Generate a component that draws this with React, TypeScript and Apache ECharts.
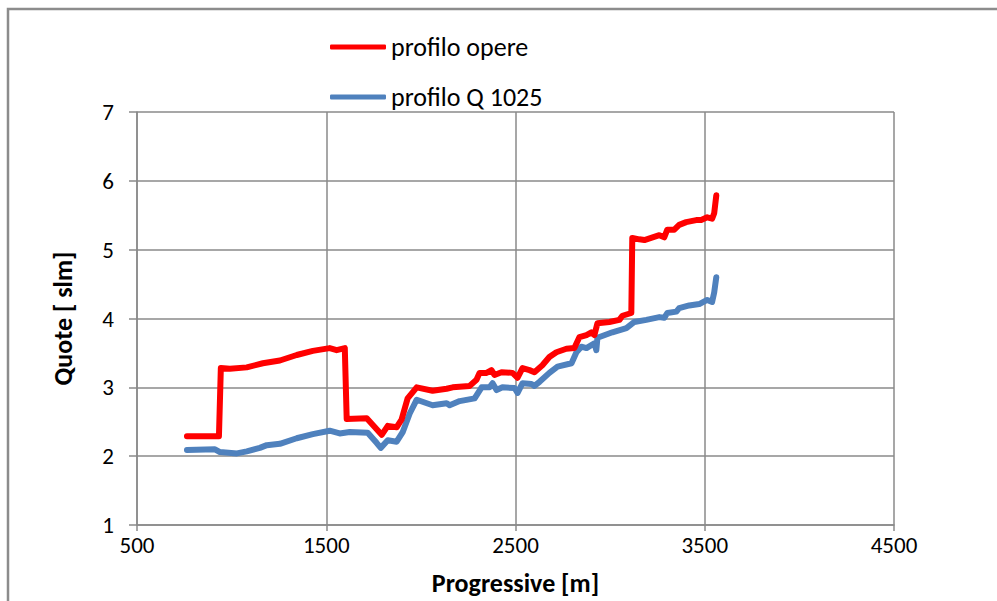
import React, { useEffect, useRef } from "react";
import * as echarts from "echarts";

const operaX = [764, 933, 943, 991, 1080, 1165, 1255, 1344, 1429, 1518, 1555, 1598, 1608, 1714, 1793, 1825, 1872, 1898, 1930, 1978, 2062, 2136, 2168, 2257, 2294, 2310, 2347, 2373, 2389, 2426, 2484, 2511, 2537, 2574, 2600, 2642, 2679, 2716, 2769, 2811, 2838, 2875, 2901, 2917, 2933, 2996, 3049, 3065, 3112, 3117, 3154, 3181, 3260, 3286, 3302, 3339, 3365, 3402, 3455, 3481, 3513, 3539, 3550, 3561];
const operaY = [2.29, 2.29, 3.28, 3.27, 3.29, 3.35, 3.39, 3.47, 3.53, 3.57, 3.54, 3.57, 2.54, 2.55, 2.31, 2.44, 2.42, 2.53, 2.84, 3.0, 2.95, 2.98, 3.0, 3.02, 3.11, 3.21, 3.21, 3.25, 3.18, 3.22, 3.21, 3.14, 3.28, 3.25, 3.22, 3.32, 3.44, 3.51, 3.56, 3.57, 3.73, 3.76, 3.8, 3.76, 3.93, 3.95, 3.98, 4.04, 4.08, 5.17, 5.15, 5.14, 5.21, 5.18, 5.29, 5.29, 5.36, 5.4, 5.43, 5.43, 5.47, 5.45, 5.53, 5.79];

const qX = [764, 912, 938, 1028, 1080, 1149, 1186, 1255, 1344, 1429, 1518, 1571, 1624, 1719, 1767, 1788, 1825, 1872, 1904, 1941, 1978, 2062, 2136, 2152, 2205, 2284, 2321, 2363, 2379, 2400, 2431, 2495, 2511, 2537, 2584, 2600, 2627, 2679, 2722, 2796, 2822, 2848, 2875, 2917, 2927, 2933, 3012, 3086, 3128, 3191, 3260, 3286, 3302, 3350, 3365, 3418, 3471, 3513, 3539, 3550, 3561];
const qY = [2.09, 2.1, 2.06, 2.04, 2.07, 2.12, 2.16, 2.18, 2.26, 2.32, 2.37, 2.33, 2.35, 2.34, 2.19, 2.12, 2.23, 2.21, 2.35, 2.62, 2.82, 2.74, 2.77, 2.74, 2.8, 2.84, 3.0, 3.0, 3.06, 2.96, 3.0, 2.99, 2.92, 3.06, 3.05, 3.02, 3.08, 3.21, 3.3, 3.35, 3.51, 3.59, 3.57, 3.64, 3.54, 3.72, 3.8, 3.86, 3.95, 3.98, 4.02, 4.01, 4.08, 4.1, 4.15, 4.19, 4.21, 4.27, 4.24, 4.38, 4.6];

const seriesNames = ["profilo opere", "profilo Q 1025"];
const xTicks = [500, 1500, 2500, 3500, 4500];
const yTicks = [1, 2, 3, 4, 5, 6, 7];

const FONT = "Carlito, Lato, 'Open Sans', sans-serif";
const GRID = "#8a8a8a";

export default function App() {
  const ref = useRef<HTMLDivElement>(null);
  useEffect(() => {
    const chart = echarts.init(ref.current!, null, { renderer: "svg" });
    chart.setOption({
      animation: false,
      backgroundColor: "#ffffff",
      textStyle: { fontFamily: FONT },
      graphic: [
        {
          type: "rect",
          shape: { x: 8, y: 9, width: 1100, height: 700 },
          style: { fill: "none", stroke: "#8c8c8c", lineWidth: 2.5 },
          silent: true,
        },
      ],
      legend: {
        orient: "vertical",
        left: 330,
        top: 34,
        padding: 0,
        itemWidth: 56,
        itemHeight: 5,
        itemGap: 24,
        icon: "roundRect",
        textStyle: { fontSize: 26, color: "#000", fontFamily: FONT, lineHeight: 26 },
        data: seriesNames,
      },
      grid: { left: 137, right: 103, top: 112, bottom: 76 },
      xAxis: {
        type: "value",
        min: xTicks[0],
        max: xTicks[xTicks.length - 1],
        interval: 1000,
        name: "Progressive [m]",
        nameLocation: "middle",
        nameGap: 45,
        nameTextStyle: { fontSize: 26, fontWeight: "bold", color: "#000", fontFamily: FONT },
        axisLine: { show: true, lineStyle: { color: GRID, width: 1.5 } },
        axisTick: { show: true, length: 6, lineStyle: { color: GRID, width: 1.5 } },
        axisLabel: { fontSize: 23, color: "#000", margin: 8, fontFamily: FONT, formatter: (v: number) => String(v) },
        splitLine: { show: true, lineStyle: { color: GRID, width: 1.5 } },
      },
      yAxis: {
        type: "value",
        min: yTicks[0],
        max: yTicks[yTicks.length - 1],
        interval: 1,
        name: "Quote [ slm]",
        nameLocation: "middle",
        nameGap: 61,
        nameTextStyle: { fontSize: 26, fontWeight: "bold", color: "#000", fontFamily: FONT },
        axisLine: { show: true, lineStyle: { color: GRID, width: 1.5 } },
        axisTick: { show: true, length: 8, lineStyle: { color: GRID, width: 1.5 } },
        axisLabel: { fontSize: 23, color: "#000", margin: 23, fontFamily: FONT },
        splitLine: { show: true, lineStyle: { color: GRID, width: 1.5 } },
      },
      series: [
        {
          name: seriesNames[0],
          type: "line",
          data: operaX.map((x, i) => [x, operaY[i]]),
          showSymbol: false,
          symbol: "none",
          color: "#ff0000",
          lineStyle: { width: 6, color: "#ff0000", cap: "round", join: "round" },
          z: 3,
        },
        {
          name: seriesNames[1],
          type: "line",
          data: qX.map((x, i) => [x, qY[i]]),
          showSymbol: false,
          symbol: "none",
          color: "#4f81bd",
          lineStyle: { width: 6, color: "#4f81bd", cap: "round", join: "round" },
          z: 2,
        },
      ],
    });
    return () => chart.dispose();
  }, []);
  return (
    <div
      ref={ref}
      style={{ position: "fixed", left: 0, top: 0, width: 997, height: 601 }}
    />
  );
}
